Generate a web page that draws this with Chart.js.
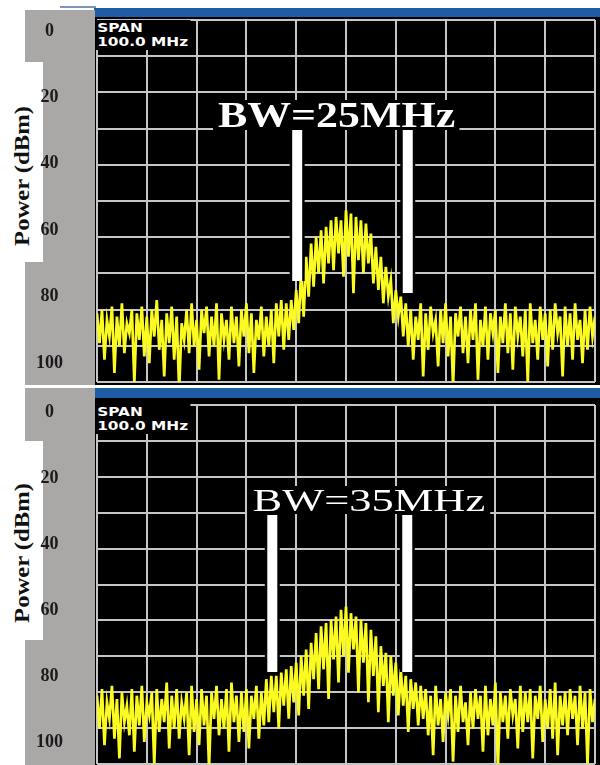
<!DOCTYPE html>
<html>
<head>
<meta charset="utf-8">
<script src="https://cdn.jsdelivr.net/npm/chart.js@4.4.1/dist/chart.umd.min.js"></script>
<style>
  body { margin: 0; background: #fff; }
  #page { position: relative; width: 600px; height: 765px; overflow: hidden; }
  .abs { position: absolute; }
  .blue { left: 94px; width: 506px; background: #1f5ca6; }
  .gray { left: 25px; width: 70px; background: #aaa7a7; }
  .white { left: 0; width: 43px; background: #fff; }
  .black { left: 95px; width: 505px; background: #000; }
  .ylabel { position: absolute; left: 22px; font: bold 22px "Liberation Serif"; color: #111;
            white-space: nowrap; transform: translate(-50%, -50%) rotate(-90deg) scaleX(1.12); }
  canvas { position: absolute; left: 0; }
  .span { position: absolute; left: 96px; font: bold 13px "DejaVu Sans"; line-height: 14px; color: #fff;
          background: #000; padding: 1px 2px 1px 1px; transform: scaleX(1.18); transform-origin: left top; }
  .bw { position: absolute; color: #fff; background: #000; padding: 0 4px; white-space: nowrap;
        font-family: "Liberation Serif"; transform-origin: left top; }
</style>
</head>
<body>
<div id="page">
  <!-- panel 1 frame -->
  <div class="abs" style="left:60px;top:6px;width:36px;height:2px;background:#7f95b5"></div>
  <div class="abs blue" style="top:8px;height:9px"></div>
  <div class="abs gray" style="top:10px;height:375px"></div>
  <div class="abs white" style="top:62px;height:200px"></div>
  <div class="abs black" style="top:17px;height:368px"></div>
  <div class="ylabel" style="top:176px">Power (dBm)</div>

  <!-- panel 2 frame -->
  <div class="abs blue" style="top:388px;height:10px"></div>
  <div class="abs gray" style="top:388px;height:377px"></div>
  <div class="abs white" style="top:441px;height:199px"></div>
  <div class="abs black" style="top:398px;height:367px"></div>
  <div class="ylabel" style="top:553px">Power (dBm)</div>

  <canvas id="topChart" width="600" height="386" style="top:0;width:600px;height:386px"></canvas>
  <canvas id="bottomChart" width="600" height="380" style="top:385px;width:600px;height:380px"></canvas>

  <div class="span" style="top:20px">SPAN<br>100.0 MHz</div>
  <div class="span" style="top:404px">SPAN<br>100.0 MHz</div>
  <div class="bw" style="left:213px;top:100px;font-size:36px;font-weight:bold;line-height:30px;transform:scaleX(1.22)">BW=25MHz</div>
  <div class="bw" style="left:247px;top:486px;font-size:32px;line-height:28px;transform:scaleX(1.39)">BW=35MHz</div>
</div>

<script>
// ------------------ Dados ------------------
// sweep: 100 MHz span, offset from centre frequency
const startFreq = -50;
const stepFreq = 0.5;
const powerTicks = [0, 20, 40, 60, 80, 100];

// trace, BW = 25 MHz (dBm, shown as 0..100 downwards)
const topTrace = [
  85, 94, 84, 99, 87, 92, 83, 103, 86, 95, 82, 97, 88, 91, 84, 106, 85, 93, 83, 98,
  86, 100, 84, 92, 81, 96, 87, 104, 85, 94, 83, 99, 86, 108, 88, 93, 84, 97, 82, 95,
  87, 102, 84, 91, 83, 98, 86, 95, 82, 105, 85, 93, 87, 99, 83, 94, 86, 101, 84, 92,
  82, 97, 85, 103, 87, 93, 83, 98, 86, 95, 84, 100, 82, 92, 81, 96,
  82, 93, 81, 90, 78, 88, 72, 86, 68, 80, 64, 77, 62, 73, 60, 76, 59, 70, 57, 72,
  56, 67, 57, 74, 54, 68, 55, 79, 56, 69, 57, 73, 58, 70, 61, 76, 65, 78, 68, 82,
  71, 80, 75, 88, 78, 86, 80, 92, 82,
  95, 84, 99, 86, 93, 82, 104, 85, 96, 83, 91, 87, 101, 84, 94, 82, 98, 86, 107, 85,
  92, 83, 97, 86, 100, 84, 93, 82, 105, 87, 95, 83, 99, 85, 91, 84, 103, 86, 94, 82,
  97, 85, 102, 83, 92, 86, 98, 84, 106, 82, 94, 87, 99, 83, 93, 85, 101, 84, 96, 82,
  91, 86, 104, 83, 95, 85, 99, 82, 93, 87, 100, 84, 96, 83, 92, 86
];

// trace, BW = 35 MHz
const bottomTrace = [
  86, 96, 84, 101, 88, 93, 83, 99, 87, 105, 85, 94, 89, 98, 84, 103, 86, 95, 83, 100,
  88, 92, 85, 107, 84, 97, 87, 94, 82, 102, 86, 96, 84, 99, 88, 93, 85, 104, 83, 97,
  87, 101, 84, 95, 86, 108, 85, 93, 83, 98, 87, 96, 84, 103, 82, 94, 86, 100, 85, 97,
  84, 102, 86, 93, 83, 99, 85, 95,
  81, 94, 80, 91, 80, 96, 79, 89, 78, 93, 77, 88, 76, 92, 74, 86, 72, 90, 70, 81,
  67, 84, 65, 78, 64, 87, 63, 75, 62, 82, 60, 74, 59, 79, 61, 72, 62, 85, 63, 76,
  64, 88, 66, 80, 68, 91, 71, 83, 73, 94, 74, 86, 76, 92, 78, 89, 80, 97, 81, 90,
  82, 95, 83,
  93, 84, 98, 86, 104, 83, 95, 87, 100, 85, 92, 84, 106, 86, 97, 83, 94, 88, 101, 85,
  96, 84, 93, 86, 103, 83, 98, 87, 95, 82, 108, 85, 94, 86, 99, 84, 92, 87, 102, 83,
  97, 85, 94, 84, 105, 86, 93, 83, 100, 87, 96, 84, 99, 82, 104, 86, 95, 85, 98, 84,
  93, 86, 101, 83, 96, 85, 107, 84, 94, 87
];

// BW markers (MHz offset, top and bottom of each bar)
const topMarkerFreq = [-9.8, 12.4];
const topMarkerTop = [29.8, 29.8];
const topMarkerBottom = [75.3, 78.9];

const bottomMarkerFreq = [-14.8, 12.3];
const bottomMarkerTop = [31.2, 31.2];
const bottomMarkerBottom = [78.8, 78.8];

// ------------------ Graficos ------------------
const gridColor = '#c6c6c6';

function makeChart(id, trace, mFreq, mTop, mBottom, yMin, yMax, padTop, padBottom) {
  const points = trace.map((v, i) => ({ x: startFreq + i * stepFreq, y: v }));
  const white = [], black = [];
  mFreq.forEach((f, k) => {
    const seg = [{ x: f, y: mTop[k] }, { x: f, y: mBottom[k] }];
    white.push({ data: seg, borderColor: '#ffffff', borderWidth: 10, pointRadius: 0, xAxisID: 'x', yAxisID: 'y' });
    black.push({ data: seg, borderColor: '#000000', borderWidth: 15, pointRadius: 0, xAxisID: 'x', yAxisID: 'y' });
  });
  const traceSet = { data: points, borderColor: '#fbfb22', borderWidth: 2.7, pointRadius: 0,
                     tension: 0, borderJoinStyle: 'miter', xAxisID: 'x', yAxisID: 'y' };

  return new Chart(document.getElementById(id), {
    type: 'line',
    data: { datasets: [...white, ...black, traceSet] },
    options: {
      responsive: false,
      animation: false,
      events: [],
      layout: { padding: { top: padTop, bottom: padBottom, left: 0, right: 0 } },
      plugins: { legend: { display: false }, tooltip: { enabled: false } },
      scales: {
        x: {
          type: 'linear', min: -50, max: 50,
          ticks: { display: false, stepSize: 10 },
          grid: { color: gridColor, lineWidth: 2, drawTicks: false },
          border: { display: false }
        },
        y: {
          type: 'linear', position: 'left', reverse: true, min: yMin, max: yMax,
          afterBuildTicks: s => { s.ticks = powerTicks.map(v => ({ value: v })); },
          afterFit: s => { s.width = 97; s.paddingTop = 0; s.paddingBottom = 0; },
          ticks: { color: '#1a1a1a', autoSkip: false, padding: 26, crossAlign: 'center',
                   font: { family: 'Liberation Serif', size: 18, weight: 'bold' } },
          grid: { display: false },
          border: { display: false }
        },
        yGrid: {
          type: 'linear', position: 'right', min: 0, max: 10,
          afterFit: s => { s.width = 5; },
          ticks: { display: false, stepSize: 1 },
          grid: { color: gridColor, lineWidth: 2, drawTicks: false },
          border: { display: false }
        }
      }
    }
  });
}

makeChart('topChart', topTrace, topMarkerFreq, topMarkerTop, topMarkerBottom, -3.3, 105.7, 20, 4);
makeChart('bottomChart', bottomTrace, bottomMarkerFreq, bottomMarkerTop, bottomMarkerBottom, -2.1, 106.7, 20, 1);
</script>
</body>
</html>
